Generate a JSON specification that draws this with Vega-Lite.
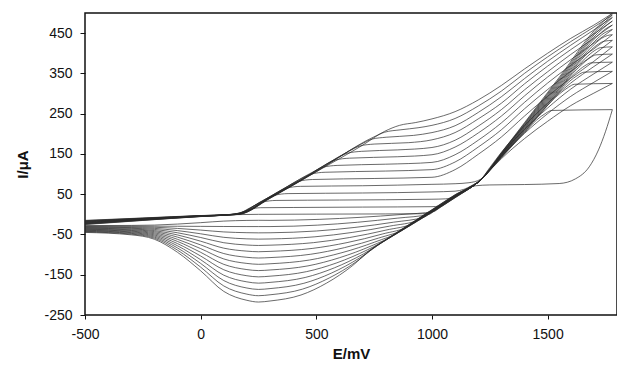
{
"$schema":"https://vega.github.io/schema/vega-lite/v6.json",
"width":532,"height":302,
"autosize":{"type":"none"},
"padding":{"left":85,"top":13,"right":0,"bottom":60},
"background":"white",
"config":{"view":{"stroke":"#111","strokeWidth":1.5},"font":"Liberation Sans"},
"data":{"values":[
{"k":0,"d":"f","e":-500,"i":-15},{"k":0,"d":"f","e":-250,"i":-9},{"k":0,"d":"f","e":0,"i":-3},{"k":0,"d":"f","e":120,"i":-1},{"k":0,"d":"f","e":250,"i":0},{"k":0,"d":"f","e":500,"i":0.5},{"k":0,"d":"f","e":800,"i":1},{"k":0,"d":"f","e":960,"i":1.5},{"k":0,"d":"f","e":1000,"i":6},{"k":0,"d":"f","e":1050,"i":26},{"k":0,"d":"f","e":1100,"i":44.6},{"k":0,"d":"f","e":1150,"i":63},{"k":0,"d":"f","e":1190,"i":71},{"k":0,"d":"f","e":1250,"i":73},{"k":0,"d":"f","e":1400,"i":74},{"k":0,"d":"f","e":1550,"i":76.5},{"k":0,"d":"f","e":1620,"i":88},{"k":0,"d":"f","e":1680,"i":118},{"k":0,"d":"f","e":1720,"i":160},{"k":0,"d":"f","e":1750,"i":205},{"k":0,"d":"f","e":1780,"i":260},
{"k":1,"d":"f","e":-500,"i":-15.8},{"k":1,"d":"f","e":-250,"i":-9.5},{"k":1,"d":"f","e":0,"i":-3.2},{"k":1,"d":"f","e":120,"i":-0.6},{"k":1,"d":"f","e":170,"i":3.7},{"k":1,"d":"f","e":211,"i":12},{"k":1,"d":"f","e":260,"i":16.5},{"k":1,"d":"f","e":400,"i":17},{"k":1,"d":"f","e":700,"i":18},{"k":1,"d":"f","e":1000,"i":19},{"k":1,"d":"f","e":1030,"i":20.5},{"k":1,"d":"f","e":1060,"i":29.8},{"k":1,"d":"f","e":1100,"i":44.6},{"k":1,"d":"f","e":1150,"i":63.2},{"k":1,"d":"f","e":1210,"i":85.6},{"k":1,"d":"f","e":1250,"i":109},{"k":1,"d":"f","e":1300,"i":138},{"k":1,"d":"f","e":1400,"i":188},{"k":1,"d":"f","e":1500,"i":231},{"k":1,"d":"f","e":1600,"i":270},{"k":1,"d":"f","e":1700,"i":301},{"k":1,"d":"f","e":1780,"i":325},
{"k":2,"d":"f","e":-500,"i":-16.6},{"k":2,"d":"f","e":-250,"i":-10},{"k":2,"d":"f","e":0,"i":-3.4},{"k":2,"d":"f","e":120,"i":-0.7},{"k":2,"d":"f","e":170,"i":3.4},{"k":2,"d":"f","e":216,"i":17},{"k":2,"d":"f","e":266,"i":30},{"k":2,"d":"f","e":326,"i":34.5},{"k":2,"d":"f","e":600,"i":35.5},{"k":2,"d":"f","e":1000,"i":37.5},{"k":2,"d":"f","e":1060,"i":38.5},{"k":2,"d":"f","e":1100,"i":44.6},{"k":2,"d":"f","e":1150,"i":63.2},{"k":2,"d":"f","e":1210,"i":85.6},{"k":2,"d":"f","e":1250,"i":112},{"k":2,"d":"f","e":1300,"i":144},{"k":2,"d":"f","e":1400,"i":201},{"k":2,"d":"f","e":1500,"i":250},{"k":2,"d":"f","e":1600,"i":293},{"k":2,"d":"f","e":1700,"i":328},{"k":2,"d":"f","e":1780,"i":355},
{"k":3,"d":"f","e":-500,"i":-17.4},{"k":3,"d":"f","e":-250,"i":-10.4},{"k":3,"d":"f","e":0,"i":-3.6},{"k":3,"d":"f","e":120,"i":-0.8},{"k":3,"d":"f","e":170,"i":3.1},{"k":3,"d":"f","e":268,"i":34},{"k":3,"d":"f","e":318,"i":47},{"k":3,"d":"f","e":378,"i":51.5},{"k":3,"d":"f","e":700,"i":53},{"k":3,"d":"f","e":1000,"i":55.6},{"k":3,"d":"f","e":1100,"i":57.5},{"k":3,"d":"f","e":1140,"i":62.5},{"k":3,"d":"f","e":1170,"i":70.7},{"k":3,"d":"f","e":1210,"i":85.6},{"k":3,"d":"f","e":1250,"i":114},{"k":3,"d":"f","e":1300,"i":149},{"k":3,"d":"f","e":1400,"i":211},{"k":3,"d":"f","e":1500,"i":264},{"k":3,"d":"f","e":1600,"i":311},{"k":3,"d":"f","e":1700,"i":349},{"k":3,"d":"f","e":1780,"i":378},
{"k":4,"d":"f","e":-500,"i":-18.2},{"k":4,"d":"f","e":-250,"i":-10.9},{"k":4,"d":"f","e":0,"i":-3.8},{"k":4,"d":"f","e":120,"i":-0.9},{"k":4,"d":"f","e":170,"i":2.8},{"k":4,"d":"f","e":250,"i":27.5},{"k":4,"d":"f","e":322,"i":51.5},{"k":4,"d":"f","e":372,"i":65},{"k":4,"d":"f","e":432,"i":69.5},{"k":4,"d":"f","e":700,"i":71},{"k":4,"d":"f","e":1000,"i":74.5},{"k":4,"d":"f","e":1100,"i":76},{"k":4,"d":"f","e":1160,"i":78.5},{"k":4,"d":"f","e":1210,"i":87},{"k":4,"d":"f","e":1250,"i":116},{"k":4,"d":"f","e":1300,"i":154},{"k":4,"d":"f","e":1400,"i":220},{"k":4,"d":"f","e":1500,"i":276},{"k":4,"d":"f","e":1600,"i":326},{"k":4,"d":"f","e":1700,"i":367},{"k":4,"d":"f","e":1780,"i":398},
{"k":5,"d":"f","e":-500,"i":-19},{"k":5,"d":"f","e":-250,"i":-11.4},{"k":5,"d":"f","e":0,"i":-4},{"k":5,"d":"f","e":120,"i":-1},{"k":5,"d":"f","e":170,"i":2.5},{"k":5,"d":"f","e":250,"i":27.2},{"k":5,"d":"f","e":374,"i":68.5},{"k":5,"d":"f","e":424,"i":82},{"k":5,"d":"f","e":484,"i":86.5},{"k":5,"d":"f","e":750,"i":89},{"k":5,"d":"f","e":1000,"i":92},{"k":5,"d":"f","e":1100,"i":111},{"k":5,"d":"f","e":1200,"i":149},{"k":5,"d":"f","e":1300,"i":192},{"k":5,"d":"f","e":1400,"i":244},{"k":5,"d":"f","e":1500,"i":293},{"k":5,"d":"f","e":1600,"i":338},{"k":5,"d":"f","e":1700,"i":380},{"k":5,"d":"f","e":1780,"i":416},
{"k":6,"d":"f","e":-500,"i":-19.8},{"k":6,"d":"f","e":-250,"i":-11.9},{"k":6,"d":"f","e":0,"i":-4.2},{"k":6,"d":"f","e":120,"i":-1.1},{"k":6,"d":"f","e":170,"i":2.2},{"k":6,"d":"f","e":300,"i":43.2},{"k":6,"d":"f","e":428,"i":86.5},{"k":6,"d":"f","e":478,"i":100},{"k":6,"d":"f","e":538,"i":104.5},{"k":6,"d":"f","e":800,"i":107.5},{"k":6,"d":"f","e":1000,"i":111},{"k":6,"d":"f","e":1100,"i":130},{"k":6,"d":"f","e":1200,"i":167},{"k":6,"d":"f","e":1300,"i":210},{"k":6,"d":"f","e":1400,"i":262},{"k":6,"d":"f","e":1500,"i":310},{"k":6,"d":"f","e":1600,"i":355},{"k":6,"d":"f","e":1700,"i":397},{"k":6,"d":"f","e":1780,"i":432},
{"k":7,"d":"f","e":-500,"i":-20.6},{"k":7,"d":"f","e":-250,"i":-12.4},{"k":7,"d":"f","e":0,"i":-4.4},{"k":7,"d":"f","e":120,"i":-1.2},{"k":7,"d":"f","e":170,"i":1.9},{"k":7,"d":"f","e":300,"i":42.7},{"k":7,"d":"f","e":480,"i":103.6},{"k":7,"d":"f","e":530,"i":117},{"k":7,"d":"f","e":590,"i":121.5},{"k":7,"d":"f","e":800,"i":124.5},{"k":7,"d":"f","e":1000,"i":129},{"k":7,"d":"f","e":1100,"i":148},{"k":7,"d":"f","e":1200,"i":184},{"k":7,"d":"f","e":1300,"i":227},{"k":7,"d":"f","e":1400,"i":278},{"k":7,"d":"f","e":1500,"i":326},{"k":7,"d":"f","e":1600,"i":370},{"k":7,"d":"f","e":1700,"i":411},{"k":7,"d":"f","e":1780,"i":446},
{"k":8,"d":"f","e":-500,"i":-21.4},{"k":8,"d":"f","e":-250,"i":-12.8},{"k":8,"d":"f","e":0,"i":-4.6},{"k":8,"d":"f","e":120,"i":-1.3},{"k":8,"d":"f","e":170,"i":1.6},{"k":8,"d":"f","e":300,"i":42.2},{"k":8,"d":"f","e":450,"i":91.7},{"k":8,"d":"f","e":534,"i":121.4},{"k":8,"d":"f","e":584,"i":135},{"k":8,"d":"f","e":644,"i":139.5},{"k":8,"d":"f","e":850,"i":143},{"k":8,"d":"f","e":1000,"i":148},{"k":8,"d":"f","e":1100,"i":167},{"k":8,"d":"f","e":1200,"i":202},{"k":8,"d":"f","e":1300,"i":244},{"k":8,"d":"f","e":1400,"i":294},{"k":8,"d":"f","e":1500,"i":341},{"k":8,"d":"f","e":1600,"i":384},{"k":8,"d":"f","e":1700,"i":425},{"k":8,"d":"f","e":1780,"i":459},
{"k":9,"d":"f","e":-500,"i":-22.2},{"k":9,"d":"f","e":-250,"i":-13.3},{"k":9,"d":"f","e":0,"i":-4.8},{"k":9,"d":"f","e":120,"i":-1.4},{"k":9,"d":"f","e":170,"i":1.3},{"k":9,"d":"f","e":300,"i":41.7},{"k":9,"d":"f","e":450,"i":91.2},{"k":9,"d":"f","e":586,"i":138.6},{"k":9,"d":"f","e":636,"i":152},{"k":9,"d":"f","e":696,"i":156.5},{"k":9,"d":"f","e":850,"i":160},{"k":9,"d":"f","e":1000,"i":166},{"k":9,"d":"f","e":1100,"i":184},{"k":9,"d":"f","e":1200,"i":219},{"k":9,"d":"f","e":1300,"i":260},{"k":9,"d":"f","e":1400,"i":309},{"k":9,"d":"f","e":1500,"i":354},{"k":9,"d":"f","e":1600,"i":397},{"k":9,"d":"f","e":1700,"i":437},{"k":9,"d":"f","e":1780,"i":470},
{"k":10,"d":"f","e":-500,"i":-23},{"k":10,"d":"f","e":-250,"i":-13.8},{"k":10,"d":"f","e":0,"i":-5},{"k":10,"d":"f","e":120,"i":-1.5},{"k":10,"d":"f","e":170,"i":1},{"k":10,"d":"f","e":300,"i":41.2},{"k":10,"d":"f","e":450,"i":90.7},{"k":10,"d":"f","e":640,"i":156.4},{"k":10,"d":"f","e":690,"i":170},{"k":10,"d":"f","e":750,"i":174.5},{"k":10,"d":"f","e":900,"i":178},{"k":10,"d":"f","e":1000,"i":185},{"k":10,"d":"f","e":1100,"i":203},{"k":10,"d":"f","e":1200,"i":237},{"k":10,"d":"f","e":1300,"i":276},{"k":10,"d":"f","e":1400,"i":324},{"k":10,"d":"f","e":1500,"i":368},{"k":10,"d":"f","e":1600,"i":409},{"k":10,"d":"f","e":1700,"i":448},{"k":10,"d":"f","e":1780,"i":480},
{"k":11,"d":"f","e":-500,"i":-23.8},{"k":11,"d":"f","e":-250,"i":-14.3},{"k":11,"d":"f","e":0,"i":-5.2},{"k":11,"d":"f","e":120,"i":-1.6},{"k":11,"d":"f","e":170,"i":0.7},{"k":11,"d":"f","e":300,"i":40.7},{"k":11,"d":"f","e":500,"i":106.7},{"k":11,"d":"f","e":692,"i":173.6},{"k":11,"d":"f","e":742,"i":187},{"k":11,"d":"f","e":802,"i":191.5},{"k":11,"d":"f","e":920,"i":196},{"k":11,"d":"f","e":1000,"i":203},{"k":11,"d":"f","e":1100,"i":220},{"k":11,"d":"f","e":1200,"i":253},{"k":11,"d":"f","e":1300,"i":292},{"k":11,"d":"f","e":1400,"i":337},{"k":11,"d":"f","e":1500,"i":380},{"k":11,"d":"f","e":1600,"i":420},{"k":11,"d":"f","e":1700,"i":458},{"k":11,"d":"f","e":1780,"i":489},
{"k":12,"d":"f","e":-500,"i":-24.6},{"k":12,"d":"f","e":-250,"i":-14.8},{"k":12,"d":"f","e":0,"i":-5.4},{"k":12,"d":"f","e":120,"i":-1.7},{"k":12,"d":"f","e":170,"i":0.4},{"k":12,"d":"f","e":300,"i":40.2},{"k":12,"d":"f","e":500,"i":106.2},{"k":12,"d":"f","e":746,"i":191.4},{"k":12,"d":"f","e":796,"i":204},{"k":12,"d":"f","e":866,"i":210},{"k":12,"d":"f","e":940,"i":215},{"k":12,"d":"f","e":1000,"i":221},{"k":12,"d":"f","e":1100,"i":238},{"k":12,"d":"f","e":1200,"i":269},{"k":12,"d":"f","e":1300,"i":306},{"k":12,"d":"f","e":1400,"i":350},{"k":12,"d":"f","e":1500,"i":391},{"k":12,"d":"f","e":1600,"i":429},{"k":12,"d":"f","e":1700,"i":465},{"k":12,"d":"f","e":1780,"i":495},
{"k":13,"d":"f","e":-500,"i":-25.4},{"k":13,"d":"f","e":-250,"i":-15.2},{"k":13,"d":"f","e":0,"i":-5.6},{"k":13,"d":"f","e":120,"i":-1.8},{"k":13,"d":"f","e":170,"i":0.1},{"k":13,"d":"f","e":300,"i":39.7},{"k":13,"d":"f","e":500,"i":105.7},{"k":13,"d":"f","e":700,"i":171.7},{"k":13,"d":"f","e":795,"i":206},{"k":13,"d":"f","e":860,"i":221},{"k":13,"d":"f","e":930,"i":228},{"k":13,"d":"f","e":1000,"i":237},{"k":13,"d":"f","e":1100,"i":255},{"k":13,"d":"f","e":1200,"i":284},{"k":13,"d":"f","e":1300,"i":320},{"k":13,"d":"f","e":1400,"i":361},{"k":13,"d":"f","e":1500,"i":400},{"k":13,"d":"f","e":1600,"i":437},{"k":13,"d":"f","e":1700,"i":470},{"k":13,"d":"f","e":1780,"i":499},
{"k":0,"d":"r","e":1780,"i":260},{"k":0,"d":"r","e":1517,"i":258},{"k":0,"d":"r","e":1492,"i":251},{"k":0,"d":"r","e":1452,"i":234},{"k":0,"d":"r","e":1400,"i":202.8},{"k":0,"d":"r","e":1300,"i":140.8},{"k":0,"d":"r","e":1210,"i":85},{"k":0,"d":"r","e":1100,"i":41},{"k":0,"d":"r","e":1037,"i":17.6},{"k":0,"d":"r","e":1007,"i":7},{"k":0,"d":"r","e":866,"i":-0.5},{"k":0,"d":"r","e":689,"i":-7.5},{"k":0,"d":"r","e":512,"i":-12.5},{"k":0,"d":"r","e":300,"i":-15},{"k":0,"d":"r","e":250,"i":-14.8},{"k":0,"d":"r","e":200,"i":-15.1},{"k":0,"d":"r","e":100,"i":-16.8},{"k":0,"d":"r","e":0,"i":-20.7},{"k":0,"d":"r","e":-100,"i":-24.2},{"k":0,"d":"r","e":-200,"i":-26.7},{"k":0,"d":"r","e":-300,"i":-27.5},{"k":0,"d":"r","e":-500,"i":-28},
{"k":1,"d":"r","e":1780,"i":325},{"k":1,"d":"r","e":1616,"i":323},{"k":1,"d":"r","e":1591,"i":316},{"k":1,"d":"r","e":1551,"i":299},{"k":1,"d":"r","e":1400,"i":204.7},{"k":1,"d":"r","e":1300,"i":141.7},{"k":1,"d":"r","e":1210,"i":85},{"k":1,"d":"r","e":1100,"i":41.6},{"k":1,"d":"r","e":1017,"i":10.8},{"k":1,"d":"r","e":987,"i":0},{"k":1,"d":"r","e":850,"i":-9.5},{"k":1,"d":"r","e":678,"i":-19.7},{"k":1,"d":"r","e":506,"i":-26.8},{"k":1,"d":"r","e":300,"i":-30.4},{"k":1,"d":"r","e":250,"i":-30.4},{"k":1,"d":"r","e":200,"i":-30.4},{"k":1,"d":"r","e":100,"i":-30.2},{"k":1,"d":"r","e":0,"i":-29.9},{"k":1,"d":"r","e":-100,"i":-29.6},{"k":1,"d":"r","e":-200,"i":-29.4},{"k":1,"d":"r","e":-300,"i":-29.3},{"k":1,"d":"r","e":-500,"i":-29.3},
{"k":2,"d":"r","e":1780,"i":355},{"k":2,"d":"r","e":1657,"i":353},{"k":2,"d":"r","e":1632,"i":346},{"k":2,"d":"r","e":1592,"i":329},{"k":2,"d":"r","e":1500,"i":270.6},{"k":2,"d":"r","e":1400,"i":206.6},{"k":2,"d":"r","e":1300,"i":142.6},{"k":2,"d":"r","e":1210,"i":85},{"k":2,"d":"r","e":1100,"i":42.2},{"k":2,"d":"r","e":997,"i":3.9},{"k":2,"d":"r","e":967,"i":-6.5},{"k":2,"d":"r","e":834,"i":-19.5},{"k":2,"d":"r","e":667,"i":-32.5},{"k":2,"d":"r","e":500,"i":-41.4},{"k":2,"d":"r","e":300,"i":-45.8},{"k":2,"d":"r","e":250,"i":-46},{"k":2,"d":"r","e":200,"i":-45.6},{"k":2,"d":"r","e":100,"i":-43.7},{"k":2,"d":"r","e":0,"i":-39.1},{"k":2,"d":"r","e":-100,"i":-35},{"k":2,"d":"r","e":-200,"i":-32.1},{"k":2,"d":"r","e":-300,"i":-31.1},{"k":2,"d":"r","e":-500,"i":-30.6},
{"k":3,"d":"r","e":1780,"i":378},{"k":3,"d":"r","e":1686,"i":376},{"k":3,"d":"r","e":1661,"i":369},{"k":3,"d":"r","e":1621,"i":351},{"k":3,"d":"r","e":1500,"i":273.5},{"k":3,"d":"r","e":1400,"i":208.5},{"k":3,"d":"r","e":1300,"i":143.5},{"k":3,"d":"r","e":1210,"i":85},{"k":3,"d":"r","e":1100,"i":42.8},{"k":3,"d":"r","e":1000,"i":5.6},{"k":3,"d":"r","e":976,"i":-3.3},{"k":3,"d":"r","e":946,"i":-13.5},{"k":3,"d":"r","e":817,"i":-29.3},{"k":3,"d":"r","e":655,"i":-45},{"k":3,"d":"r","e":494,"i":-55.8},{"k":3,"d":"r","e":300,"i":-61.2},{"k":3,"d":"r","e":250,"i":-61.6},{"k":3,"d":"r","e":200,"i":-60.9},{"k":3,"d":"r","e":100,"i":-57.1},{"k":3,"d":"r","e":0,"i":-48.3},{"k":3,"d":"r","e":-100,"i":-40.4},{"k":3,"d":"r","e":-200,"i":-34.8},{"k":3,"d":"r","e":-300,"i":-32.9},{"k":3,"d":"r","e":-500,"i":-31.9},
{"k":4,"d":"r","e":1780,"i":398},{"k":4,"d":"r","e":1709,"i":396},{"k":4,"d":"r","e":1684,"i":389},{"k":4,"d":"r","e":1644,"i":370},{"k":4,"d":"r","e":1500,"i":276.4},{"k":4,"d":"r","e":1400,"i":210.4},{"k":4,"d":"r","e":1300,"i":144.4},{"k":4,"d":"r","e":1210,"i":85},{"k":4,"d":"r","e":1100,"i":43.4},{"k":4,"d":"r","e":1000,"i":6.2},{"k":4,"d":"r","e":956,"i":-10.1},{"k":4,"d":"r","e":926,"i":-20.8},{"k":4,"d":"r","e":801,"i":-39.2},{"k":4,"d":"r","e":644,"i":-57.6},{"k":4,"d":"r","e":488,"i":-70.3},{"k":4,"d":"r","e":300,"i":-76.6},{"k":4,"d":"r","e":250,"i":-77.3},{"k":4,"d":"r","e":200,"i":-76.2},{"k":4,"d":"r","e":100,"i":-70.5},{"k":4,"d":"r","e":0,"i":-57.5},{"k":4,"d":"r","e":-100,"i":-45.8},{"k":4,"d":"r","e":-200,"i":-37.5},{"k":4,"d":"r","e":-300,"i":-34.7},{"k":4,"d":"r","e":-500,"i":-33.2},
{"k":5,"d":"r","e":1780,"i":416},{"k":5,"d":"r","e":1729,"i":414},{"k":5,"d":"r","e":1704,"i":407},{"k":5,"d":"r","e":1664,"i":388},{"k":5,"d":"r","e":1550,"i":312.8},{"k":5,"d":"r","e":1400,"i":212.3},{"k":5,"d":"r","e":1300,"i":145.3},{"k":5,"d":"r","e":1210,"i":85},{"k":5,"d":"r","e":1100,"i":44},{"k":5,"d":"r","e":1000,"i":6.8},{"k":5,"d":"r","e":936,"i":-17},{"k":5,"d":"r","e":906,"i":-28},{"k":5,"d":"r","e":785,"i":-49},{"k":5,"d":"r","e":633,"i":-70.2},{"k":5,"d":"r","e":482,"i":-84.7},{"k":5,"d":"r","e":300,"i":-92},{"k":5,"d":"r","e":250,"i":-92.9},{"k":5,"d":"r","e":200,"i":-91.4},{"k":5,"d":"r","e":100,"i":-84},{"k":5,"d":"r","e":0,"i":-66.7},{"k":5,"d":"r","e":-100,"i":-51.2},{"k":5,"d":"r","e":-200,"i":-40.3},{"k":5,"d":"r","e":-300,"i":-36.5},{"k":5,"d":"r","e":-500,"i":-34.5},
{"k":6,"d":"r","e":1780,"i":432},{"k":6,"d":"r","e":1745,"i":430},{"k":6,"d":"r","e":1720,"i":423},{"k":6,"d":"r","e":1680,"i":404},{"k":6,"d":"r","e":1550,"i":316.2},{"k":6,"d":"r","e":1400,"i":214.2},{"k":6,"d":"r","e":1300,"i":146.2},{"k":6,"d":"r","e":1210,"i":85},{"k":6,"d":"r","e":1100,"i":44.6},{"k":6,"d":"r","e":1000,"i":7.4},{"k":6,"d":"r","e":916,"i":-23.8},{"k":6,"d":"r","e":886,"i":-35},{"k":6,"d":"r","e":769,"i":-59},{"k":6,"d":"r","e":622,"i":-82.7},{"k":6,"d":"r","e":476,"i":-99.1},{"k":6,"d":"r","e":300,"i":-107.4},{"k":6,"d":"r","e":250,"i":-108.5},{"k":6,"d":"r","e":200,"i":-106.7},{"k":6,"d":"r","e":100,"i":-97.4},{"k":6,"d":"r","e":0,"i":-75.9},{"k":6,"d":"r","e":-100,"i":-56.6},{"k":6,"d":"r","e":-200,"i":-43},{"k":6,"d":"r","e":-300,"i":-38.3},{"k":6,"d":"r","e":-500,"i":-35.8},
{"k":7,"d":"r","e":1780,"i":446},{"k":7,"d":"r","e":1758,"i":444},{"k":7,"d":"r","e":1733,"i":437},{"k":7,"d":"r","e":1693,"i":417},{"k":7,"d":"r","e":1550,"i":319.6},{"k":7,"d":"r","e":1400,"i":216.1},{"k":7,"d":"r","e":1300,"i":147.1},{"k":7,"d":"r","e":1210,"i":85},{"k":7,"d":"r","e":1100,"i":45.2},{"k":7,"d":"r","e":1000,"i":8},{"k":7,"d":"r","e":896,"i":-30.6},{"k":7,"d":"r","e":866,"i":-41.9},{"k":7,"d":"r","e":753,"i":-68.8},{"k":7,"d":"r","e":611,"i":-95.2},{"k":7,"d":"r","e":470,"i":-113.5},{"k":7,"d":"r","e":300,"i":-122.8},{"k":7,"d":"r","e":250,"i":-124.1},{"k":7,"d":"r","e":200,"i":-121.9},{"k":7,"d":"r","e":100,"i":-110.8},{"k":7,"d":"r","e":0,"i":-85.1},{"k":7,"d":"r","e":-100,"i":-62},{"k":7,"d":"r","e":-200,"i":-45.7},{"k":7,"d":"r","e":-300,"i":-40.1},{"k":7,"d":"r","e":-500,"i":-37.1},
{"k":8,"d":"r","e":1780,"i":459},{"k":8,"d":"r","e":1769,"i":457},{"k":8,"d":"r","e":1744,"i":450},{"k":8,"d":"r","e":1704,"i":430},{"k":8,"d":"r","e":1550,"i":323},{"k":8,"d":"r","e":1400,"i":218},{"k":8,"d":"r","e":1300,"i":148},{"k":8,"d":"r","e":1210,"i":85},{"k":8,"d":"r","e":1100,"i":45.8},{"k":8,"d":"r","e":1000,"i":8.6},{"k":8,"d":"r","e":876,"i":-37.5},{"k":8,"d":"r","e":846,"i":-48.8},{"k":8,"d":"r","e":737,"i":-78.6},{"k":8,"d":"r","e":600,"i":-107.8},{"k":8,"d":"r","e":464,"i":-128},{"k":8,"d":"r","e":300,"i":-138.2},{"k":8,"d":"r","e":250,"i":-139.7},{"k":8,"d":"r","e":200,"i":-137.2},{"k":8,"d":"r","e":100,"i":-124.2},{"k":8,"d":"r","e":0,"i":-94.3},{"k":8,"d":"r","e":-100,"i":-67.3},{"k":8,"d":"r","e":-200,"i":-48.4},{"k":8,"d":"r","e":-300,"i":-41.9},{"k":8,"d":"r","e":-500,"i":-38.4},
{"k":9,"d":"r","e":1780,"i":470},{"k":9,"d":"r","e":1752,"i":461},{"k":9,"d":"r","e":1712,"i":441},{"k":9,"d":"r","e":1550,"i":326.4},{"k":9,"d":"r","e":1400,"i":219.9},{"k":9,"d":"r","e":1300,"i":148.9},{"k":9,"d":"r","e":1210,"i":85},{"k":9,"d":"r","e":1100,"i":46.4},{"k":9,"d":"r","e":1000,"i":9.2},{"k":9,"d":"r","e":900,"i":-28},{"k":9,"d":"r","e":855,"i":-44.7},{"k":9,"d":"r","e":825,"i":-55.7},{"k":9,"d":"r","e":720,"i":-88.4},{"k":9,"d":"r","e":589,"i":-120.4},{"k":9,"d":"r","e":458,"i":-142.3},{"k":9,"d":"r","e":300,"i":-153.6},{"k":9,"d":"r","e":250,"i":-155.3},{"k":9,"d":"r","e":200,"i":-152.5},{"k":9,"d":"r","e":100,"i":-137.7},{"k":9,"d":"r","e":0,"i":-103.5},{"k":9,"d":"r","e":-100,"i":-72.7},{"k":9,"d":"r","e":-200,"i":-51.1},{"k":9,"d":"r","e":-300,"i":-43.7},{"k":9,"d":"r","e":-500,"i":-39.7},
{"k":10,"d":"r","e":1780,"i":480},{"k":10,"d":"r","e":1759,"i":471},{"k":10,"d":"r","e":1719,"i":451},{"k":10,"d":"r","e":1550,"i":329.8},{"k":10,"d":"r","e":1400,"i":221.8},{"k":10,"d":"r","e":1300,"i":149.8},{"k":10,"d":"r","e":1210,"i":85},{"k":10,"d":"r","e":1100,"i":47},{"k":10,"d":"r","e":1000,"i":9.8},{"k":10,"d":"r","e":900,"i":-27.4},{"k":10,"d":"r","e":835,"i":-51.5},{"k":10,"d":"r","e":805,"i":-62.6},{"k":10,"d":"r","e":704,"i":-98.2},{"k":10,"d":"r","e":578,"i":-132.9},{"k":10,"d":"r","e":452,"i":-156.8},{"k":10,"d":"r","e":300,"i":-169},{"k":10,"d":"r","e":250,"i":-170.9},{"k":10,"d":"r","e":200,"i":-167.7},{"k":10,"d":"r","e":100,"i":-151.1},{"k":10,"d":"r","e":0,"i":-112.7},{"k":10,"d":"r","e":-100,"i":-78.1},{"k":10,"d":"r","e":-200,"i":-53.8},{"k":10,"d":"r","e":-300,"i":-45.5},{"k":10,"d":"r","e":-500,"i":-41},
{"k":11,"d":"r","e":1780,"i":489},{"k":11,"d":"r","e":1763,"i":480},{"k":11,"d":"r","e":1723,"i":459},{"k":11,"d":"r","e":1550,"i":333.2},{"k":11,"d":"r","e":1400,"i":223.7},{"k":11,"d":"r","e":1300,"i":150.7},{"k":11,"d":"r","e":1210,"i":85},{"k":11,"d":"r","e":1100,"i":47.6},{"k":11,"d":"r","e":1000,"i":10.4},{"k":11,"d":"r","e":900,"i":-26.8},{"k":11,"d":"r","e":815,"i":-58.4},{"k":11,"d":"r","e":785,"i":-69.5},{"k":11,"d":"r","e":688,"i":-108},{"k":11,"d":"r","e":567,"i":-145.5},{"k":11,"d":"r","e":446,"i":-171.3},{"k":11,"d":"r","e":300,"i":-184.4},{"k":11,"d":"r","e":250,"i":-186.5},{"k":11,"d":"r","e":200,"i":-183},{"k":11,"d":"r","e":100,"i":-164.5},{"k":11,"d":"r","e":0,"i":-121.9},{"k":11,"d":"r","e":-100,"i":-83.5},{"k":11,"d":"r","e":-200,"i":-56.5},{"k":11,"d":"r","e":-300,"i":-47.3},{"k":11,"d":"r","e":-500,"i":-42.3},
{"k":12,"d":"r","e":1780,"i":495},{"k":12,"d":"r","e":1764,"i":486},{"k":12,"d":"r","e":1724,"i":465},{"k":12,"d":"r","e":1550,"i":336.6},{"k":12,"d":"r","e":1400,"i":225.6},{"k":12,"d":"r","e":1300,"i":151.6},{"k":12,"d":"r","e":1210,"i":85},{"k":12,"d":"r","e":1100,"i":48.2},{"k":12,"d":"r","e":1000,"i":11},{"k":12,"d":"r","e":900,"i":-26.2},{"k":12,"d":"r","e":795,"i":-65.2},{"k":12,"d":"r","e":765,"i":-76.4},{"k":12,"d":"r","e":672,"i":-118},{"k":12,"d":"r","e":556,"i":-158},{"k":12,"d":"r","e":440,"i":-185.8},{"k":12,"d":"r","e":300,"i":-199.8},{"k":12,"d":"r","e":250,"i":-202.1},{"k":12,"d":"r","e":200,"i":-198.2},{"k":12,"d":"r","e":100,"i":-177.9},{"k":12,"d":"r","e":0,"i":-131.1},{"k":12,"d":"r","e":-100,"i":-88.9},{"k":12,"d":"r","e":-200,"i":-59.2},{"k":12,"d":"r","e":-300,"i":-49.1},{"k":12,"d":"r","e":-500,"i":-43.6},
{"k":13,"d":"r","e":1780,"i":499},{"k":13,"d":"r","e":1762,"i":490},{"k":13,"d":"r","e":1722,"i":469},{"k":13,"d":"r","e":1550,"i":340},{"k":13,"d":"r","e":1400,"i":227.5},{"k":13,"d":"r","e":1300,"i":152.5},{"k":13,"d":"r","e":1210,"i":85},{"k":13,"d":"r","e":1100,"i":48.8},{"k":13,"d":"r","e":1000,"i":11.6},{"k":13,"d":"r","e":900,"i":-25.6},{"k":13,"d":"r","e":775,"i":-72.1},{"k":13,"d":"r","e":745,"i":-83.3},{"k":13,"d":"r","e":656,"i":-127.7},{"k":13,"d":"r","e":545,"i":-170.6},{"k":13,"d":"r","e":434,"i":-200.3},{"k":13,"d":"r","e":300,"i":-215.2},{"k":13,"d":"r","e":250,"i":-217.8},{"k":13,"d":"r","e":200,"i":-213.5},{"k":13,"d":"r","e":100,"i":-191.4},{"k":13,"d":"r","e":0,"i":-140.3},{"k":13,"d":"r","e":-100,"i":-94.3},{"k":13,"d":"r","e":-200,"i":-61.9},{"k":13,"d":"r","e":-300,"i":-50.9},{"k":13,"d":"r","e":-500,"i":-44.9}
]},
"mark":{"type":"line","interpolate":"monotone","strokeWidth":0.7,"color":"#2a2a2a","clip":true},
"encoding":{
"x":{"field":"e","type":"quantitative","scale":{"domain":[-500,1800],"nice":false,"zero":false},
 "axis":{"values":[-500,0,500,1000,1500],"labelExpr":"datum.value + ''","title":"E/mV","grid":false,"domain":false,"tickColor":"#111","tickSize":4,"labelFontSize":14,"labelColor":"#111","labelPadding":8,"labelFlush":false,"labelOverlap":false,"titleFontSize":15,"titleFontWeight":"bold","titleColor":"#111","titleY":38,"titleBaseline":"middle"}},
"y":{"field":"i","type":"quantitative","scale":{"domain":[-250,500],"nice":false,"zero":false},
 "axis":{"values":[-250,-150,-50,50,150,250,350,450],"labelExpr":"datum.value + ''","title":"I/μA","grid":false,"domain":false,"tickColor":"#111","tickSize":5,"labelFontSize":14,"labelColor":"#111","labelPadding":8,"labelFlush":false,"labelOverlap":false,"titleFontSize":15,"titleFontWeight":"bold","titleColor":"#111","titleAngle":-90,"titleX":-63,"titleY":151,"titleAlign":"center","titleBaseline":"middle"}},
"detail":[{"field":"k","type":"nominal"},{"field":"d","type":"nominal"}],
"order":{"field":"e","type":"quantitative"}
}
}
